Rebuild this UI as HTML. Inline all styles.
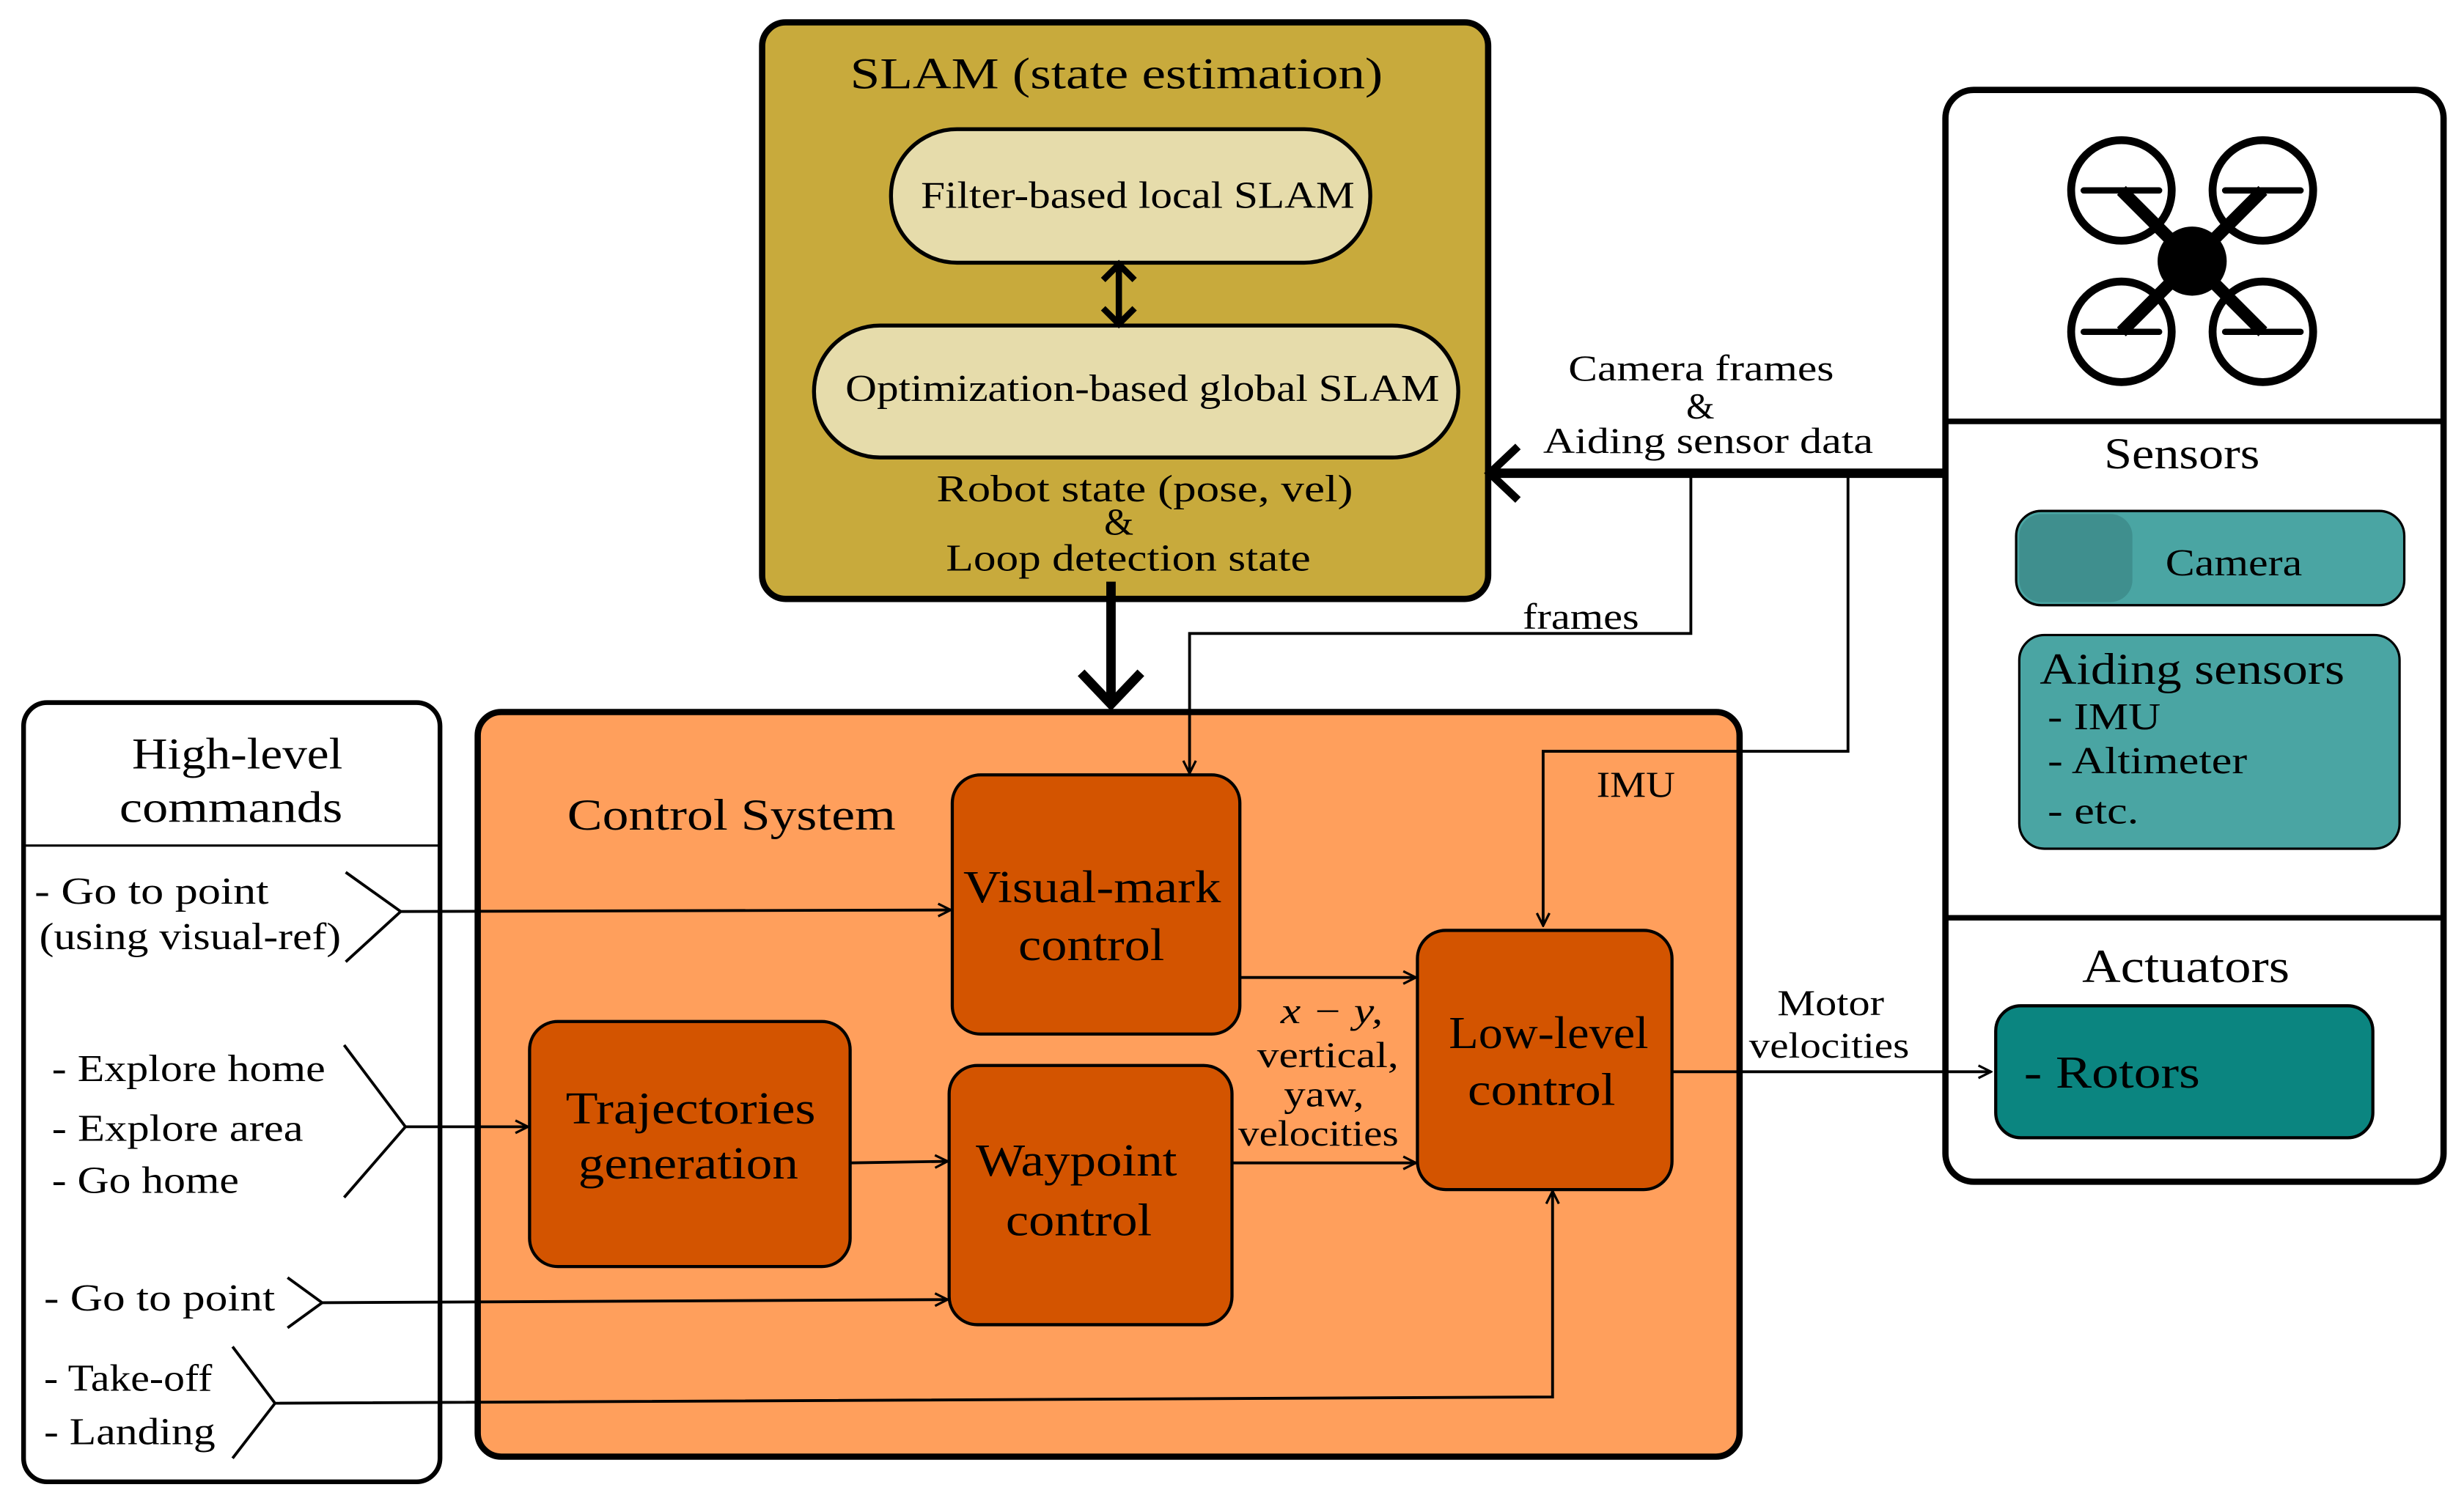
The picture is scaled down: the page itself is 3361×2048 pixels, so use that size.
<!DOCTYPE html>
<html><head><meta charset="utf-8"><style>
html,body{margin:0;padding:0;background:#fff}
svg{display:block}
text{font-family:"Liberation Serif",serif;fill:#000}
</style></head><body>
<svg width="3361" height="2048" viewBox="0 0 1568 955" xmlns="http://www.w3.org/2000/svg">
<defs>
<marker id="ah" markerWidth="10" markerHeight="10" refX="9" refY="5" orient="auto" markerUnits="userSpaceOnUse">
<path d="M1,1 L9,5 L1,9" fill="none" stroke="#000" stroke-width="1.5"/>
</marker>
</defs>
<!-- SLAM -->
<rect x="485" y="14" width="462" height="367" rx="15" fill="#C8AA3C" stroke="#000" stroke-width="4"/>
<text x="541" y="56" font-size="28" textLength="339" lengthAdjust="spacingAndGlyphs">SLAM (state estimation)</text>
<rect x="567" y="82" width="305" height="85" rx="42" fill="#E6DCAB" stroke="#000" stroke-width="2.5"/>
<text x="586" y="132" font-size="24" textLength="276" lengthAdjust="spacingAndGlyphs">Filter-based local SLAM</text>
<rect x="518" y="207" width="410" height="84" rx="42" fill="#E6DCAB" stroke="#000" stroke-width="2.5"/>
<text x="538" y="255" font-size="24" textLength="378" lengthAdjust="spacingAndGlyphs">Optimization-based global SLAM</text>
<line x1="712" y1="170" x2="712" y2="205" stroke="#000" stroke-width="4"/>
<path d="M702,178 L712,168 L722,178 M702,196 L712,206 L722,196" fill="none" stroke="#000" stroke-width="4"/>
<text x="596" y="319" font-size="24" textLength="265" lengthAdjust="spacingAndGlyphs">Robot state  (pose, vel)</text>
<text x="712" y="340" font-size="24" text-anchor="middle">&amp;</text>
<text x="602" y="363" font-size="24" textLength="232" lengthAdjust="spacingAndGlyphs">Loop detection state</text>
<!-- Control system -->
<rect x="304" y="453" width="803" height="474" rx="15" fill="#FF9F5C" stroke="#000" stroke-width="4"/>
<line x1="707" y1="370" x2="707" y2="448" stroke="#000" stroke-width="6"/>
<path d="M688,428 L707,448 L726,428" fill="none" stroke="#000" stroke-width="6"/>
<text x="361" y="528" font-size="28" textLength="209" lengthAdjust="spacingAndGlyphs">Control System</text>
<rect x="606" y="493" width="183" height="165" rx="18" fill="#D35400" stroke="#000" stroke-width="2"/>
<text x="613" y="574" font-size="29" textLength="164" lengthAdjust="spacingAndGlyphs">Visual-mark</text>
<text x="648" y="611" font-size="29" textLength="93" lengthAdjust="spacingAndGlyphs">control</text>
<rect x="337" y="650" width="204" height="156" rx="18" fill="#D35400" stroke="#000" stroke-width="2"/>
<text x="360" y="715" font-size="29" textLength="159" lengthAdjust="spacingAndGlyphs">Trajectories</text>
<text x="368" y="750" font-size="29" textLength="140" lengthAdjust="spacingAndGlyphs">generation</text>
<rect x="604" y="678" width="180" height="165" rx="18" fill="#D35400" stroke="#000" stroke-width="2"/>
<text x="621" y="748" font-size="29" textLength="128" lengthAdjust="spacingAndGlyphs">Waypoint</text>
<text x="640" y="786" font-size="29" textLength="93" lengthAdjust="spacingAndGlyphs">control</text>
<rect x="902" y="592" width="162" height="165" rx="18" fill="#D35400" stroke="#000" stroke-width="2"/>
<text x="922" y="667" font-size="29" textLength="127" lengthAdjust="spacingAndGlyphs">Low-level</text>
<text x="934" y="703" font-size="29" textLength="94" lengthAdjust="spacingAndGlyphs">control</text>
<!-- high-level -->
<rect x="15" y="447" width="265" height="496" rx="15" fill="#fff" stroke="#000" stroke-width="3"/>
<line x1="15" y1="538" x2="280" y2="538" stroke="#000" stroke-width="1.5"/>
<text x="84" y="489" font-size="28" textLength="134" lengthAdjust="spacingAndGlyphs">High-level</text>
<text x="76" y="523" font-size="28" textLength="142" lengthAdjust="spacingAndGlyphs">commands</text>
<g font-size="24">
<text x="22" y="575" textLength="149" lengthAdjust="spacingAndGlyphs">- Go to point</text>
<text x="25" y="604" textLength="192" lengthAdjust="spacingAndGlyphs">(using visual-ref)</text>
<text x="33" y="688" textLength="174" lengthAdjust="spacingAndGlyphs">- Explore home</text>
<text x="33" y="726" textLength="160" lengthAdjust="spacingAndGlyphs">- Explore area</text>
<text x="33" y="759" textLength="119" lengthAdjust="spacingAndGlyphs">- Go home</text>
<text x="28" y="834" textLength="147" lengthAdjust="spacingAndGlyphs">- Go to point</text>
<text x="28" y="885" textLength="107" lengthAdjust="spacingAndGlyphs">- Take-off</text>
<text x="28" y="919" textLength="109" lengthAdjust="spacingAndGlyphs">- Landing</text>
</g>
<g fill="none" stroke="#000" stroke-width="1.8">
<path d="M220,555 L255,580 L220,612"/>
<path d="M219,665 L258,717 L219,762"/>
<path d="M183,813 L205,829 L183,845"/>
<path d="M148,857 L175,893 L148,928"/>
<path d="M255,580 L605,579" marker-end="url(#ah)"/>
<path d="M258,717 L336,717" marker-end="url(#ah)"/>
<path d="M205,829 L603,827" marker-end="url(#ah)"/>
<path d="M175,893 L988,889 L988,758" marker-end="url(#ah)"/>
<path d="M541,740 L603,739" marker-end="url(#ah)"/>
<path d="M789,622 L901,622" marker-end="url(#ah)"/>
<path d="M784,740 L901,740" marker-end="url(#ah)"/>
<path d="M1076,301 L1076,403 L757,403 L757,492" marker-end="url(#ah)"/>
<path d="M1176,301 L1176,478 L982,478 L982,589" marker-end="url(#ah)"/>
</g>
<g font-size="23">
<text x="815" y="651" font-style="italic" textLength="65" lengthAdjust="spacingAndGlyphs">x − y,</text>
<text x="800" y="679" textLength="90" lengthAdjust="spacingAndGlyphs">vertical,</text>
<text x="817" y="704" textLength="51" lengthAdjust="spacingAndGlyphs">yaw,</text>
<text x="788" y="729" textLength="102" lengthAdjust="spacingAndGlyphs">velocities</text>
<text x="1131" y="646" textLength="68" lengthAdjust="spacingAndGlyphs">Motor</text>
<text x="1113" y="673" textLength="102" lengthAdjust="spacingAndGlyphs">velocities</text>
<text x="969" y="400" textLength="74" lengthAdjust="spacingAndGlyphs">frames</text>
<text x="1016" y="507" textLength="50" lengthAdjust="spacingAndGlyphs">IMU</text>
<text x="998" y="242" textLength="169" lengthAdjust="spacingAndGlyphs">Camera frames</text>
<text x="1082" y="266" text-anchor="middle">&amp;</text>
<text x="982" y="288" textLength="210" lengthAdjust="spacingAndGlyphs">Aiding sensor data</text>
</g>
<line x1="1238" y1="301" x2="950" y2="301" stroke="#000" stroke-width="6"/>
<path d="M966,284 L948,301 L966,318" fill="none" stroke="#000" stroke-width="5"/>
<!-- right panel -->
<rect x="1238" y="57" width="317" height="695" rx="18" fill="#fff" stroke="#000" stroke-width="4"/>
<line x1="1238" y1="268" x2="1555" y2="268" stroke="#000" stroke-width="3.5"/>
<line x1="1238" y1="584" x2="1555" y2="584" stroke="#000" stroke-width="3.5"/>
<path d="M1064,682 L1267,682" fill="none" stroke="#000" stroke-width="1.8" marker-end="url(#ah)"/>
<g stroke="#000" fill="none" stroke-width="5">
<circle cx="1350" cy="121" r="32"/><circle cx="1440" cy="121" r="32"/>
<circle cx="1350" cy="211" r="32"/><circle cx="1440" cy="211" r="32"/>
<path d="M1350,121 L1440,211 M1440,121 L1350,211" stroke-width="8"/>
</g>
<circle cx="1395" cy="166" r="22" fill="#000"/>
<g stroke="#000" stroke-width="4" stroke-linecap="round">
<path d="M1326,121 L1374,121"/>
<path d="M1416,121 L1464,121"/>
<path d="M1326,211 L1374,211"/>
<path d="M1416,211 L1464,211"/>
</g>
<text x="1339" y="298" font-size="28" textLength="99" lengthAdjust="spacingAndGlyphs">Sensors</text>
<rect x="1283" y="325" width="247" height="60" rx="16" fill="#4AA5A3" stroke="#000" stroke-width="1.5"/>
<rect x="1285" y="327" width="72" height="56" rx="14" fill="#3F8F8E"/>
<text x="1378" y="366" font-size="24" textLength="87" lengthAdjust="spacingAndGlyphs">Camera</text>
<rect x="1285" y="404" width="242" height="136" rx="16" fill="#4AA5A3" stroke="#000" stroke-width="1.5"/>
<text x="1298" y="435" font-size="28" textLength="194" lengthAdjust="spacingAndGlyphs">Aiding sensors</text>
<text x="1303" y="464" font-size="24" textLength="72" lengthAdjust="spacingAndGlyphs">- IMU</text>
<text x="1303" y="492" font-size="24" textLength="127" lengthAdjust="spacingAndGlyphs">- Altimeter</text>
<text x="1303" y="524" font-size="24" textLength="58" lengthAdjust="spacingAndGlyphs">- etc.</text>
<text x="1325" y="625" font-size="30" textLength="132" lengthAdjust="spacingAndGlyphs">Actuators</text>
<rect x="1270" y="640" width="240" height="84" rx="16" fill="#0B8580" stroke="#000" stroke-width="2"/>
<text x="1288" y="692" font-size="29" textLength="112" lengthAdjust="spacingAndGlyphs">- Rotors</text>
</svg>
</body></html>
